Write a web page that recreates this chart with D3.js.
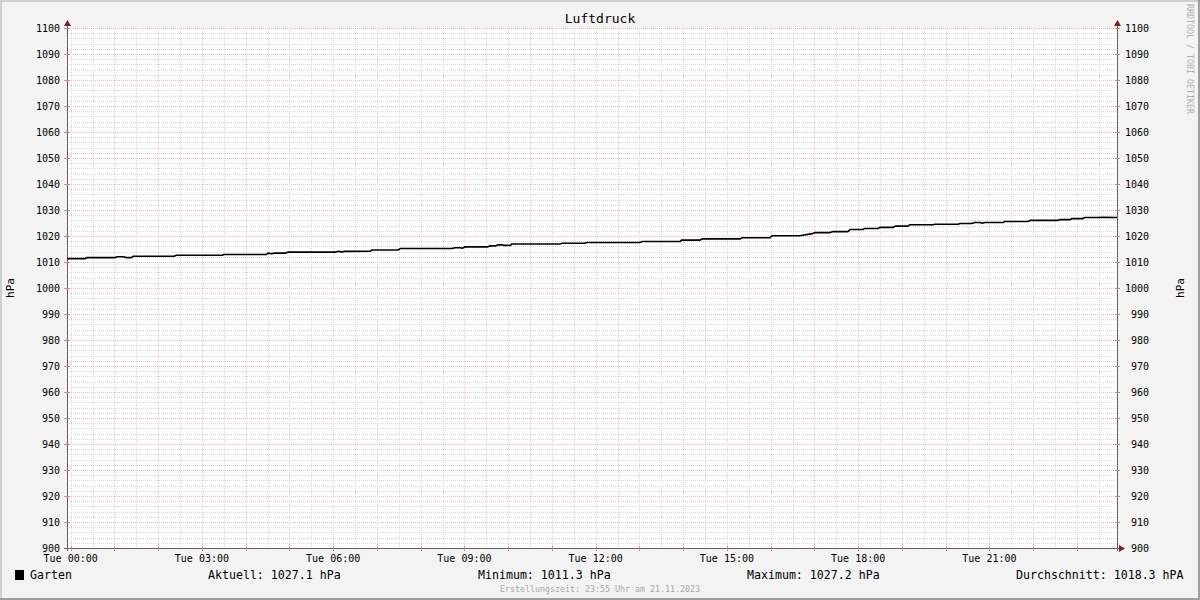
<!DOCTYPE html>
<html><head><meta charset="utf-8">
<script src="https://cdn.jsdelivr.net/npm/d3@7"></script>
<style>
html,body{margin:0;padding:0;background:#f3f3f3;}
svg{display:block;}
text{font-family:"DejaVu Sans Mono",monospace;}
</style></head>
<body>
<svg id="chart" width="1200" height="600"></svg>
<script>
// ---- data ----
const title = "Luftdruck";
const unitLabel = "hPa";
const seriesName = "Garten";
// minutes after Tue 00:00 (domain starts Mon 23:55)
const minutes = [-5,20,22,61,64,73,76,83,86,142,145,208,210,268,271,276,279,295,298,363,367,372,376,411,413,449,452,523,527,534,537,541,572,575,583,586,592,594,603,605,671,674,705,708,781,784,836,838,863,866,918,921,959,962,1000,1017,1021,1041,1046,1066,1069,1087,1089,1107,1110,1128,1131,1148,1151,1183,1185,1217,1220,1236,1240,1247,1250,1254,1279,1281,1313,1316,1354,1357,1371,1373,1388,1391,1410,1415,1435];
const pressure = [1011.3,1011.3,1011.7,1011.7,1012.0,1012.0,1011.7,1011.7,1012.2,1012.2,1012.6,1012.6,1012.9,1012.9,1013.4,1013.2,1013.4,1013.4,1013.8,1013.8,1014.1,1013.9,1014.1,1014.2,1014.6,1014.6,1015.2,1015.2,1015.5,1015.5,1015.3,1015.8,1015.8,1016.2,1016.2,1016.6,1016.6,1016.4,1016.4,1016.9,1016.9,1017.2,1017.2,1017.5,1017.5,1017.9,1017.9,1018.4,1018.4,1018.9,1018.9,1019.3,1019.3,1020.1,1020.1,1020.9,1021.3,1021.3,1021.7,1021.7,1022.5,1022.5,1022.9,1022.9,1023.3,1023.3,1023.8,1023.8,1024.3,1024.3,1024.5,1024.5,1024.8,1024.8,1025.2,1025.2,1024.9,1025.2,1025.2,1025.6,1025.6,1026.0,1026.0,1026.3,1026.3,1026.7,1026.7,1027.1,1027.1,1027.2,1027.1];
const yTicks = [900,910,920,930,940,950,960,970,980,990,1000,1010,1020,1030,1040,1050,1060,1070,1080,1090,1100];
const xTickMinutes = [0,180,360,540,720,900,1080,1260];
const xTickLabels = ["Tue 00:00","Tue 03:00","Tue 06:00","Tue 09:00","Tue 12:00","Tue 15:00","Tue 18:00","Tue 21:00"];
const legendLabels = ["Aktuell: 1027.1 hPa","Minimum: 1011.3 hPa","Maximum: 1027.2 hPa","Durchschnitt: 1018.3 hPA"];
const footer = "Erstellungszeit: 23:55 Uhr am 21.11.2023";
const watermark = "RRDTOOL / TOBI OETIKER";

// ---- layout ----
const W=1200,H=600;
const L=67,R=1117,T=28,B=548;
const svg=d3.select("#chart");
const x=d3.scaleLinear().domain([-5,1435]).range([L,R]);
const y=d3.scaleLinear().domain([900,1100]).range([B,T]);

// background & frame
svg.append("rect").attr("width",W).attr("height",H).attr("fill","#f3f3f3");
svg.append("rect").attr("x",0).attr("y",0).attr("width",W).attr("height",2).attr("fill","#cfcfcf");
svg.append("rect").attr("x",0).attr("y",0).attr("width",2).attr("height",H).attr("fill","#cfcfcf");
svg.append("rect").attr("x",0).attr("y",H-2).attr("width",W).attr("height",2).attr("fill","#9e9e9e");
svg.append("rect").attr("x",W-2).attr("y",0).attr("width",2).attr("height",H).attr("fill","#9e9e9e");

// plot area
svg.append("rect").attr("x",L).attr("y",T).attr("width",R-L).attr("height",B-T).attr("fill","#ffffff");

const grid=svg.append("g").attr("shape-rendering","crispEdges");
const minorC="#d8d8d8", majorC="#f0b8b8", majorVC="#f2caca";
// minor horizontal (every 2)
const minorY=d3.range(902,1100,2).filter(v=>v%10!==0);
grid.selectAll(".hmin").data(minorY).enter().append("line")
  .attr("x1",L).attr("x2",R).attr("y1",d=>Math.round(y(d))+0.5).attr("y2",d=>Math.round(y(d))+0.5)
  .attr("stroke",minorC).attr("stroke-dasharray","1,1");
// minor vertical (half hours)
const minorX=d3.range(30,1435,60);
grid.selectAll(".vmin").data(minorX).enter().append("line")
  .attr("y1",T).attr("y2",B).attr("x1",d=>Math.round(x(d))+0.5).attr("x2",d=>Math.round(x(d))+0.5)
  .attr("stroke",minorC).attr("stroke-dasharray","1,1");
// major horizontal
grid.selectAll(".hmaj").data(yTicks.filter(v=>v>900)).enter().append("line")
  .attr("x1",L).attr("x2",R).attr("y1",d=>Math.round(y(d))+0.5).attr("y2",d=>Math.round(y(d))+0.5)
  .attr("stroke",majorC).attr("stroke-dasharray","1,1");
// major vertical (hours)
const majorX=d3.range(0,1435,60);
grid.selectAll(".vmaj").data(majorX).enter().append("line")
  .attr("y1",T).attr("y2",B).attr("x1",d=>Math.round(x(d))+0.5).attr("x2",d=>Math.round(x(d))+0.5)
  .attr("stroke",majorVC).attr("stroke-dasharray","1,1");

// axes lines
const ax=svg.append("g").attr("shape-rendering","crispEdges");
ax.append("line").attr("x1",L+0.5).attr("x2",L+0.5).attr("y1",B+3).attr("y2",T-4).attr("stroke","#606060");
ax.append("line").attr("x1",R+0.5).attr("x2",R+0.5).attr("y1",B+3).attr("y2",T-4).attr("stroke","#606060");
ax.append("line").attr("x1",L-3).attr("x2",R+4).attr("y1",B+0.5).attr("y2",B+0.5).attr("stroke","#606060");
// ticks on y axes
yTicks.forEach(v=>{
  const yy=Math.round(y(v))+0.5;
  ax.append("line").attr("x1",L-3).attr("x2",L+3).attr("y1",yy).attr("y2",yy).attr("stroke",v===900?"#606060":"#d88080");
  ax.append("line").attr("x1",R-2).attr("x2",R+3).attr("y1",yy).attr("y2",yy).attr("stroke",v===900?"#606060":"#d88080");
});
// hour ticks on x axis
majorX.forEach(m=>{
  const xx=Math.round(x(m))+0.5;
  ax.append("line").attr("x1",xx).attr("x2",xx).attr("y1",B-2).attr("y2",B+3).attr("stroke","#d88080");
});
// arrows
const arrowC="#8b1a1a";
svg.append("path").attr("d",`M${L-3},${T-2} L${L+4},${T-2} L${L+0.5},${T-8} Z`).attr("fill",arrowC);
svg.append("path").attr("d",`M${R-3},${T-2} L${R+4},${T-2} L${R+0.5},${T-8} Z`).attr("fill",arrowC);
svg.append("path").attr("d",`M${R+2},${B-3} L${R+2},${B+4} L${R+8},${B+0.5} Z`).attr("fill",arrowC);

// y labels
const yl=svg.append("g").attr("font-size","10px").attr("fill","#000");
yl.selectAll(".yl").data(yTicks).enter().append("text")
  .attr("x",60).attr("y",d=>y(d)).attr("dy","0.35em").attr("text-anchor","end").text(d=>d);
yl.selectAll(".yr").data(yTicks).enter().append("text")
  .attr("x",1149).attr("y",d=>y(d)).attr("dy","0.35em").attr("text-anchor","end").text(d=>d);
// x labels
svg.append("g").attr("font-size","10px").selectAll("text").data(xTickMinutes).enter().append("text")
  .attr("x",d=>x(d)).attr("y",562).attr("text-anchor","middle").text((d,i)=>xTickLabels[i]);

// unit labels
svg.append("text").attr("transform","translate(14,288) rotate(-90)").attr("text-anchor","middle")
  .attr("font-size","11px").text(unitLabel);
svg.append("text").attr("transform","translate(1184,288) rotate(-90)").attr("text-anchor","middle")
  .attr("font-size","11px").text(unitLabel);

// title
svg.append("text").attr("x",600).attr("y",23).attr("text-anchor","middle").attr("font-size","13px").text(title);

// watermark
svg.append("text").attr("transform","translate(1187,4) rotate(90)").attr("font-size","8.3px")
  .attr("fill","#b0b0b0").text(watermark);

// line
const pts=minutes.map((m,i)=>[m,pressure[i]]);
svg.append("path").datum(pts)
  .attr("d",d3.line().x(d=>x(d[0])).y(d=>y(d[1])))
  .attr("fill","none").attr("stroke","#000").attr("stroke-width",1.6);

// legend
svg.append("rect").attr("x",15).attr("y",570).attr("width",9).attr("height",10).attr("fill","#000");
const lg=svg.append("g").attr("font-size","11.6px").attr("fill","#000");
lg.append("text").attr("x",30).attr("y",579).text(seriesName);
const lx=[208,478,747,1016];
legendLabels.forEach((t,i)=>lg.append("text").attr("x",lx[i]).attr("y",579).text(t));

// footer
svg.append("text").attr("x",600).attr("y",592).attr("text-anchor","middle").attr("font-size","8.3px")
  .attr("fill","#a8a8a8").text(footer);
</script>
</body></html>
